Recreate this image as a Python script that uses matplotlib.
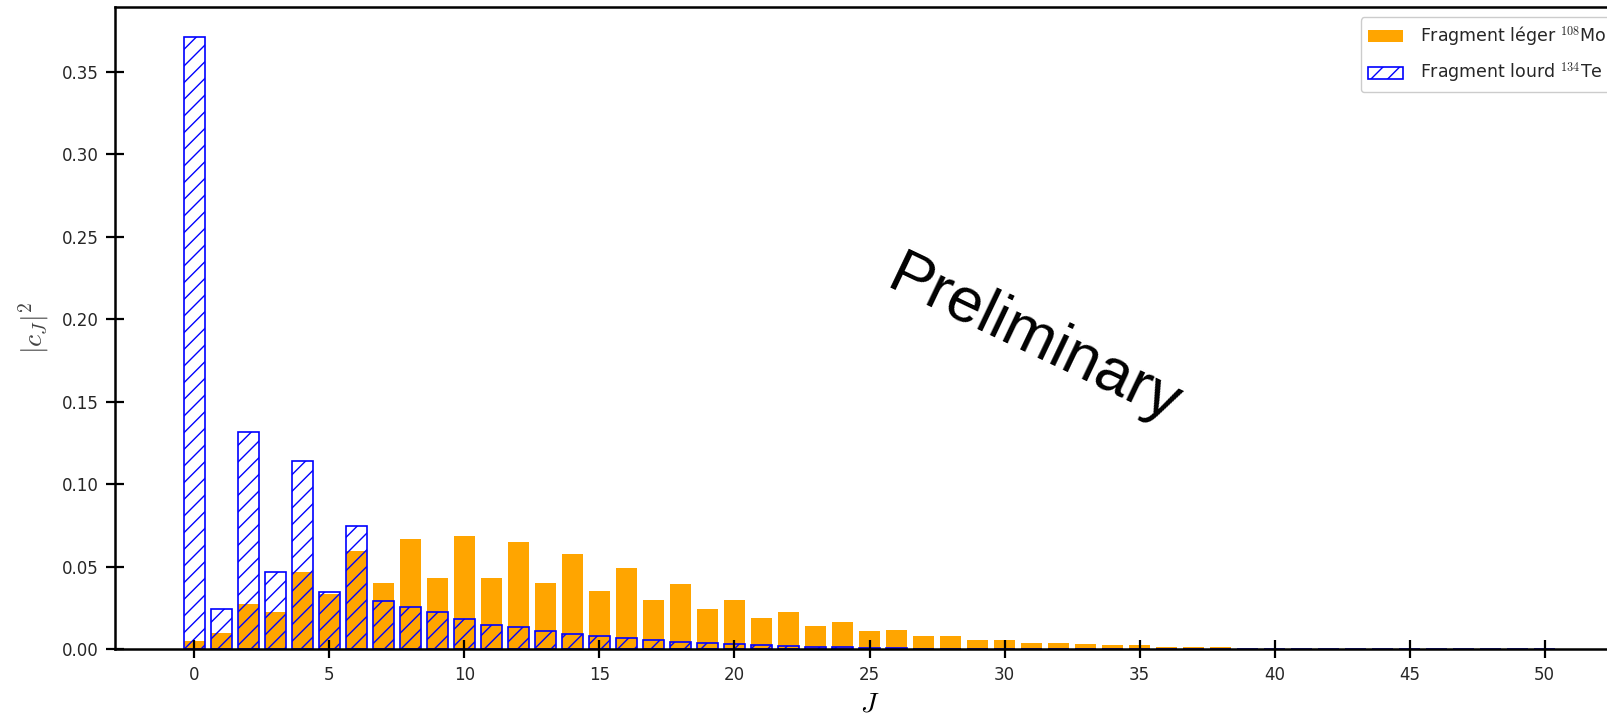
import matplotlib
matplotlib.use("Agg")
import matplotlib.pyplot as plt
import numpy as np

plt.rcParams["mathtext.fontset"] = "cm"
plt.rcParams["hatch.color"] = "blue"
plt.rcParams["hatch.linewidth"] = 1.0

# Angular momentum values J
J = list(range(0, 51))

# |c_J|^2 for the light fragment (108Mo)
light = [0.0053, 0.0101, 0.0275, 0.0227, 0.0466, 0.0335, 0.0599, 0.0405, 0.0670, 0.0435,
         0.0689, 0.0435, 0.0648, 0.0405, 0.0577, 0.0356, 0.0490, 0.0300, 0.0395, 0.0243,
         0.0300, 0.0188, 0.0229, 0.0142, 0.0166, 0.0111, 0.0117, 0.0079, 0.0079, 0.0056,
         0.0057, 0.0040, 0.0040, 0.0032, 0.0024, 0.0024, 0.0016, 0.0016, 0.0016, 0.0,
         0.0, 0.0, 0.0, 0.0, 0.0, 0.0, 0.0, 0.0, 0.0, 0.0, 0.0]

# |c_J|^2 for the heavy fragment (134Te)
heavy = [0.3710, 0.0243, 0.1315, 0.0466, 0.1140, 0.0346, 0.0749, 0.0294, 0.0259, 0.0227,
         0.0182, 0.0150, 0.0134, 0.0109, 0.0093, 0.0079, 0.0071, 0.0055, 0.0045, 0.0036,
         0.0032, 0.0028, 0.0022, 0.0014, 0.0012, 0.0010, 0.0006, 0.0004, 0.0003, 0.0002,
         0.0002, 0.0001, 0.0001, 0.0, 0.0, 0.0, 0.0, 0.0, 0.0, 0.0,
         0.0, 0.0, 0.0, 0.0, 0.0, 0.0, 0.0, 0.0, 0.0, 0.0, 0.0]

x_ticks = [0, 5, 10, 15, 20, 25, 30, 35, 40, 45, 50]
y_ticks = [0.00, 0.05, 0.10, 0.15, 0.20, 0.25, 0.30, 0.35]

fig = plt.figure(figsize=(16.08, 7.14), dpi=100)
ax = fig.add_axes([0.0715, 0.0906, 0.9385, 0.9])

ax.bar(J, light, width=0.8, color="orange", label=r"Fragment léger $^{108}$Mo")
ax.bar(J, heavy, width=0.8, facecolor="none", edgecolor="blue", hatch="//",
       linewidth=1.2, label=r"Fragment lourd $^{134}$Te")

ax.set_xticks(x_ticks)
ax.set_yticks(y_ticks)
ax.set_yticklabels([f"{v:.2f}" for v in y_ticks])

for side in ["left", "bottom", "top", "right"]:
    ax.spines[side].set_linewidth(1.8)
    ax.spines[side].set_color("black")

ax.tick_params(axis="both", direction="inout", length=12.5, width=1.6,
               labelsize=12, labelcolor="#262626", pad=5.5, color="black")

ax.set_xlabel(r"$J$", fontsize=20, labelpad=4)
ax.set_ylabel(r"$|c_J|^2$", fontsize=20, labelpad=8, color="#444444")

ax.text(31.1, 0.187, "Preliminary", fontsize=45.5, family="Liberation Sans",
        rotation=-25.5, rotation_mode="anchor", ha="center", va="center", color="black")

leg = ax.legend(loc="upper right", fontsize=12.5, framealpha=1.0, labelspacing=0.72,
                handletextpad=1.0, bbox_to_anchor=(1 - 2.0 / 1509, 1 - 2.0 / 642.6))
for t in leg.get_texts():
    t.set_color("#262626")

fig.savefig("out.png", dpi=100)
